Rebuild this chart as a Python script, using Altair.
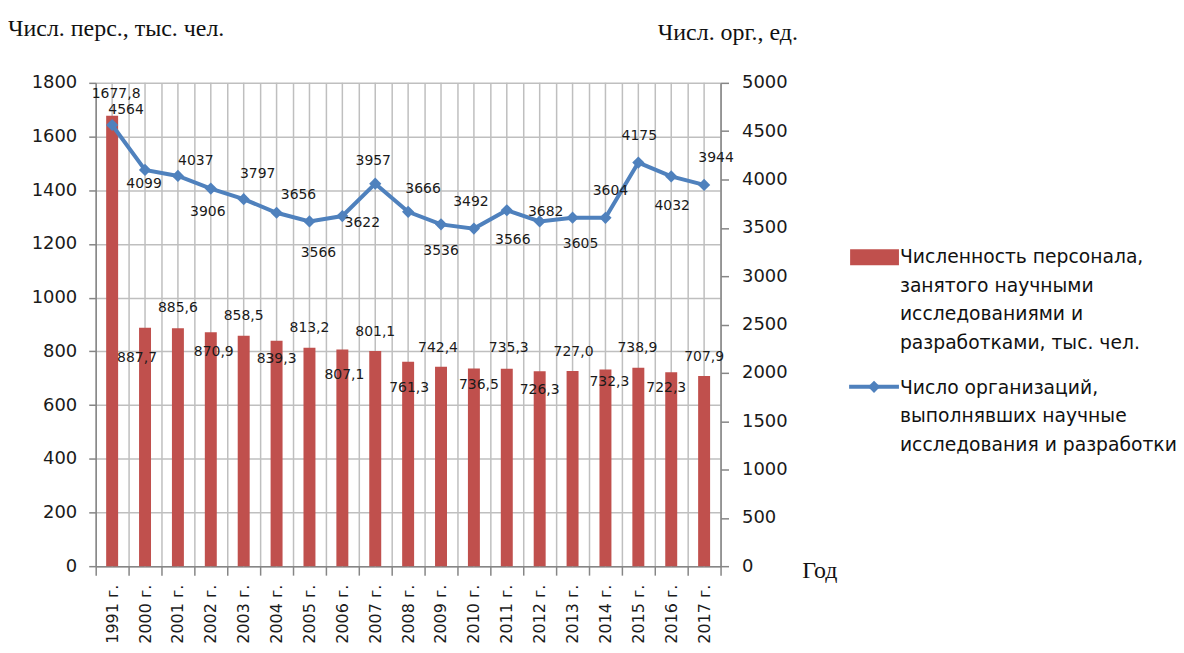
import altair as alt
import pandas as pd

years = ["1991 г.", "2000 г.", "2001 г.", "2002 г.", "2003 г.", "2004 г.", "2005 г.",
         "2006 г.", "2007 г.", "2008 г.", "2009 г.", "2010 г.", "2011 г.", "2012 г.",
         "2013 г.", "2014 г.", "2015 г.", "2016 г.", "2017 г."]
personnel = [1677.8, 887.7, 885.6, 870.9, 858.5, 839.3, 813.2, 807.1, 801.1, 761.3,
             742.4, 736.5, 735.3, 726.3, 727.0, 732.3, 738.9, 722.3, 707.9]
organizations = [4564, 4099, 4037, 3906, 3797, 3656, 3566, 3622, 3957, 3666,
                 3536, 3492, 3682, 3566, 3605, 3604, 4175, 4032, 3944]

# label nudges (pixels) as placed in the original chart
bar_label_dx = [4, -8, 0, 3, 0, 0, 0, 2, 0, 1, -3, 5, 2, 0, 1, 4, -1, -5, 0]
bar_label_dy = [-22, 30, -20, 20, -20, 18, -20, 26, -19, 26, -19, 17, -21, 19, -19, 13, -20, 16, -19]
org_label_dx = [14, -1, 18, -3, 14, 22, 9, 20, -2, 15, 0, -3, 39, -27, 8, 5, 1, 1, 12]
org_label_dy = [-15, 14, -15, 24, -25, -18, 32, 7, -23, -23, 27, -27, 2, 19, 26, -27, -27, 30, -27]

legend_bar = "Численность персонала,\nзанятого научными\nисследованиями и\nразработками, тыс. чел."
legend_line = "Число организаций,\nвыполнявших научные\nисследования и разработки"
title_left = "Числ. перс., тыс. чел."
title_right = "Числ. орг., ед."
title_x = "Год"

W, H = 627, 485
RED = "#C0504D"
BLUE = "#4F81BD"
GRID = "#BFBFBF"
AXIS = "#868686"
TXT = "#1a1a1a"
SANS = "DejaVu Sans"
SERIF = "Liberation Serif"

df = pd.DataFrame({
    "year": years,
    "pers": personnel,
    "org": organizations,
    "pers_lab": [f"{v:.1f}".replace(".", ",") for v in personnel],
    "org_lab": [str(v) for v in organizations],
})

base = alt.Chart(df)
x_axis = alt.Axis(tickBand="extent", grid=True, gridColor=GRID, gridWidth=1.5,
                  labelAngle=-90, labelFont=SANS, labelFontSize=16, labelColor=TXT,
                  tickSize=9, tickColor=AXIS, domainColor=AXIS, domainWidth=1.5,
                  tickWidth=1.5, labelPadding=9)
x_scale = alt.Scale(paddingInner=0, paddingOuter=0)
xenc = alt.X("year:N", sort=years, title=None, scale=x_scale, axis=x_axis)

yl_axis = alt.Axis(values=list(range(0, 1801, 200)), grid=True, gridColor=GRID,
                   gridWidth=1.5, labelFont=SANS, labelFontSize=18,
                   labelColor=TXT, tickSize=7, tickColor=AXIS, tickWidth=1.5,
                   domainColor=AXIS, domainWidth=1.5, labelPadding=12, format="d")
yr_axis = alt.Axis(orient="right", values=list(range(0, 5001, 500)), grid=False,
                   labelFont=SANS, labelFontSize=18, labelColor=TXT,
                   tickSize=8, tickColor=AXIS, tickWidth=1.5,
                   domainColor=AXIS, domainWidth=1.5, labelPadding=13, format="d")
yl_scale = alt.Scale(domain=[0, 1800], nice=False)
yr_scale = alt.Scale(domain=[0, 5000], nice=False)
ylenc = alt.Y("pers:Q", scale=yl_scale, title=None, axis=yl_axis)
yrenc = alt.Y("org:Q", scale=yr_scale, title=None, axis=yr_axis)

center_grid = base.mark_rule(color=GRID, strokeWidth=1.5).encode(
    x=xenc, y=alt.value(0), y2=alt.value(H))
bars = base.mark_bar(color=RED, size=12).encode(x=xenc, y=ylenc)
bar_labels = [
    base.transform_filter(alt.datum.year == yr).mark_text(
        font=SANS, fontSize=14, color=TXT, dx=dx, dy=dy).encode(
        x=xenc, y=ylenc, text="pers_lab:N")
    for yr, dx, dy in zip(years, bar_label_dx, bar_label_dy)
]
left = alt.layer(bars, *bar_labels)

line = base.mark_line(color=BLUE, strokeWidth=4).encode(x=xenc, y=yrenc)
points = base.mark_point(shape="diamond", filled=True, color=BLUE, size=150, opacity=1).encode(
    x=xenc, y=yrenc)
org_labels = [
    base.transform_filter(alt.datum.year == yr).mark_text(
        font=SANS, fontSize=14, color=TXT, dx=dx, dy=dy).encode(
        x=xenc, y=yrenc, text="org_lab:N")
    for yr, dx, dy in zip(years, org_label_dx, org_label_dy)
]
right = alt.layer(line, points, *org_labels)

one = alt.Chart(pd.DataFrame({"k": [0]}))
t_left = one.mark_text(font=SERIF, fontSize=24, align="left", baseline="middle", color="#111").encode(
    x=alt.value(-88), y=alt.value(-54), text=alt.value(title_left))
t_right = one.mark_text(font=SERIF, fontSize=24, align="left", baseline="middle", color="#111").encode(
    x=alt.value(564), y=alt.value(-50), text=alt.value(title_right))
t_x = one.mark_text(font=SERIF, fontSize=24, align="left", baseline="middle", color="#111").encode(
    x=alt.value(709), y=alt.value(490), text=alt.value(title_x))
leg_rect = one.mark_rect(color=RED).encode(
    x=alt.value(757), x2=alt.value(806), y=alt.value(167), y2=alt.value(183))
leg_txt1 = one.mark_text(font=SANS, fontSize=18.8, align="left", baseline="top",
                         lineBreak="\n", lineHeight=28.7, color="#111").encode(
    x=alt.value(807), y=alt.value(166), text=alt.value(legend_bar))
leg_rule = one.mark_rule(color=BLUE, strokeWidth=4).encode(
    x=alt.value(756), x2=alt.value(806), y=alt.value(305))
leg_pt = one.mark_point(shape="diamond", filled=True, color=BLUE, size=150, opacity=1).encode(
    x=alt.value(781), y=alt.value(305))
leg_txt2 = one.mark_text(font=SANS, fontSize=18.8, align="left", baseline="top",
                         lineBreak="\n", lineHeight=28.7, color="#111").encode(
    x=alt.value(807), y=alt.value(297), text=alt.value(legend_line))
annot = alt.layer(t_left, t_right, t_x, leg_rect, leg_txt1, leg_rule, leg_pt, leg_txt2)

chart = alt.layer(center_grid, left, right, annot).resolve_scale(y="independent").properties(
    width=W, height=H,
    background="white",
    autosize=alt.AutoSizeParams(type="none"),
    padding={"left": 88, "top": 74, "right": 457, "bottom": 78},
).configure_view(stroke=None)

chart.save("out.html", embed_options={"renderer": "svg", "actions": False})
